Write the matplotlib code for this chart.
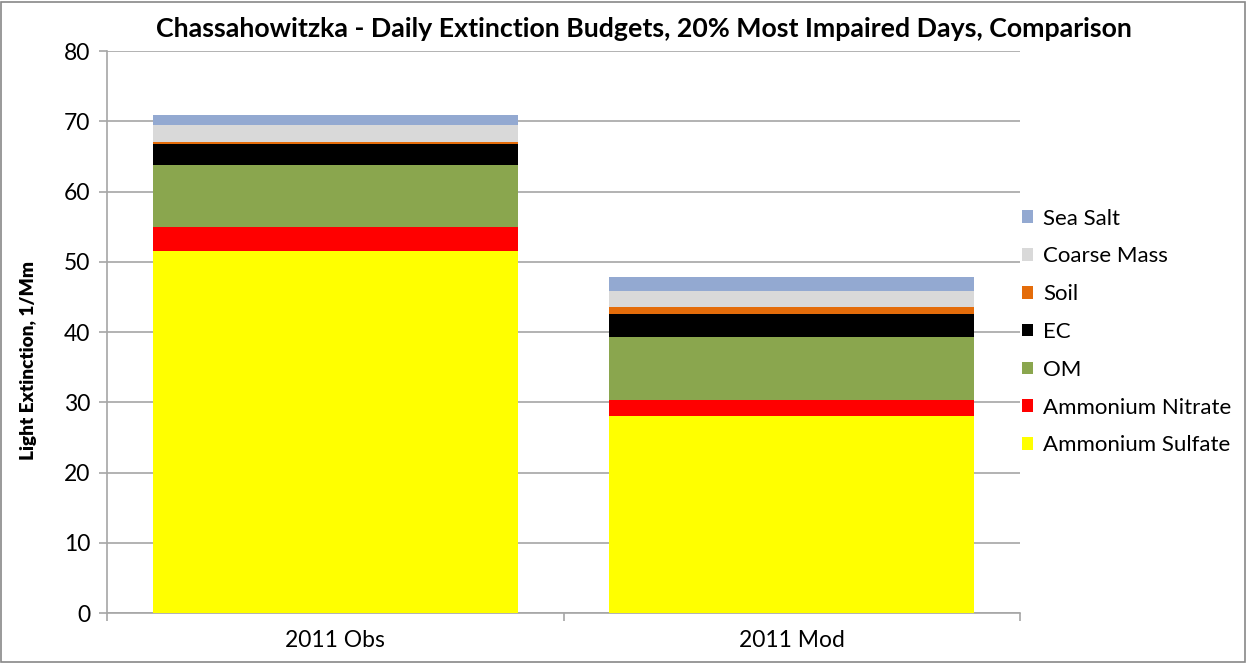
import matplotlib.pyplot as plt
import numpy as np

plt.rcParams['font.family'] = ['Lato', 'DejaVu Sans']

categories = ['2011 Obs', '2011 Mod']
species = ['Ammonium Sulfate', 'Ammonium Nitrate', 'OM', 'EC', 'Soil', 'Coarse Mass', 'Sea Salt']
colors = ['#ffff00', '#ff0000', '#8aa64e', '#000000', '#e46c0a', '#d9d9d9', '#93a9d1']

sulfate = [51.56, 28.0]
nitrate = [3.42, 2.28]
om = [8.77, 9.01]
ec = [2.99, 3.21]
soil = [0.33, 1.0]
coarse = [2.37, 2.4]
sea_salt = [1.42, 2.0]

fig = plt.figure(figsize=(12.47, 6.63), dpi=100)
ax = fig.add_axes([0.0858, 0.0754, 0.7322, 0.8476])

x = np.arange(len(categories))
bottom = np.zeros(len(categories))
handles = []
for name, vals, c in zip(species, [sulfate, nitrate, om, ec, soil, coarse, sea_salt], colors):
    h = ax.bar(x, vals, 0.8, bottom=bottom, color=c, label=name, zorder=3)
    handles.append(h)
    bottom += np.array(vals)

ax.set_xlim(-0.5, 1.5)
ax.set_ylim(0, 80)
ax.set_yticks(range(0, 81, 10))
ax.yaxis.grid(True, color='#a6a6a6', linewidth=1.2, zorder=0)
ax.set_xticks(x)
ax.set_xticklabels(categories, fontsize=16.5)
ax.set_xticks([-0.5, 0.5, 1.5], minor=True)
ax.tick_params(axis='x', which='major', length=0, pad=12)
ax.tick_params(axis='x', which='minor', length=6, color='#a6a6a6', width=1.2)
ax.tick_params(axis='y', length=6, color='#a6a6a6', width=1.2, labelsize=16.5, pad=6)
for s in ['top', 'right']:
    ax.spines[s].set_visible(False)
for s in ['left', 'bottom']:
    ax.spines[s].set_color('#a6a6a6')
    ax.spines[s].set_linewidth(1.2)

ax.set_ylabel('Light Extinction, 1/Mm', fontsize=13.7, fontweight='heavy')
ax.yaxis.set_label_coords(-0.077, 0.45)
fig.text(0.516, 0.956, 'Chassahowitzka - Daily Extinction Budgets, 20% Most Impaired Days, Comparison',
         ha='center', va='center', fontsize=19.3, fontweight='bold')

ax.legend(handles[::-1], species[::-1], loc='center left', bbox_to_anchor=(0.995, 0.5),
          frameon=False, fontsize=16, handlelength=0.5, handleheight=0.5,
          labelspacing=0.8, handletextpad=0.45, borderaxespad=0.0, borderpad=0.3)

fig.add_artist(plt.Rectangle((0.001, 0.002), 0.997, 0.995, transform=fig.transFigure,
                             fill=False, edgecolor='#888888', linewidth=1.2))

fig.savefig('out.png', dpi=100)
